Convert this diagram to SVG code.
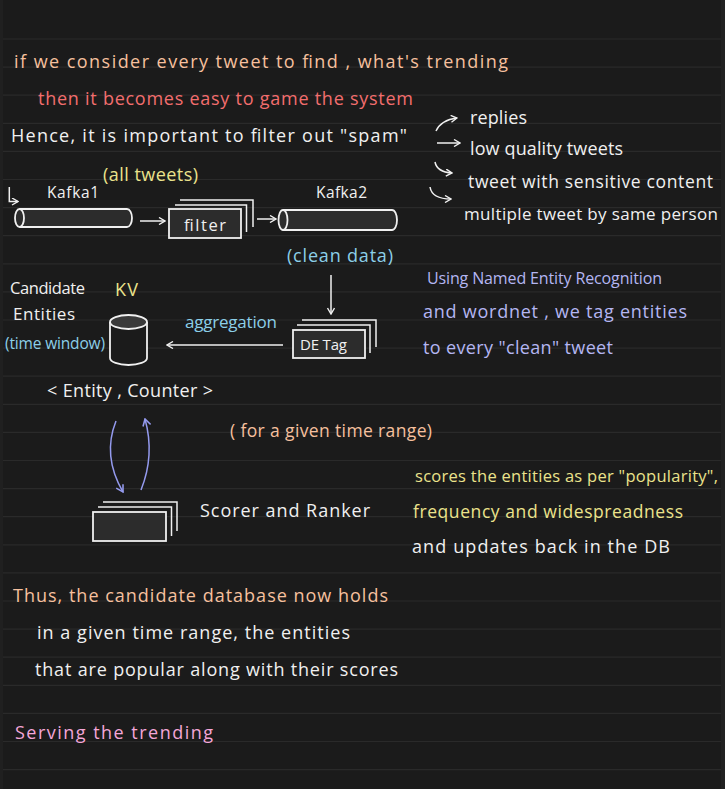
<svg xmlns="http://www.w3.org/2000/svg" width="725" height="789" viewBox="0 0 725 789">
<defs>
<style>
text{font-family:"Open Sans","Liberation Sans",sans-serif;font-size:18px}
.w{fill:#f0f0f0}.pe{fill:#f6c09e}.rd{fill:#f26e6e}.ye{fill:#ebe38c}.bl{fill:#8ccfe8}.lv{fill:#b4b6f2}.pk{fill:#f4a6d8}
.rule{stroke:#2a2a2a;stroke-width:1.2}
.sh{stroke:#f0f0f0;stroke-width:1.8;fill:#2c2c2c}
.ln{stroke:#f0f0f0;stroke-width:1.5;fill:none}
.bln{stroke:#949aee;stroke-width:1.5;fill:none}
</style>
<marker id="ah" viewBox="0 0 8 8" refX="7" refY="4" markerWidth="8" markerHeight="8" markerUnits="userSpaceOnUse" orient="auto">
<path d="M1,0.5 L7,4 L1,7.5" fill="none" stroke="#f0f0f0" stroke-width="1.4"/>
</marker>
<marker id="bh" viewBox="0 0 8 8" refX="7" refY="4" markerWidth="9" markerHeight="9" markerUnits="userSpaceOnUse" orient="auto">
<path d="M1,0.5 L7,4 L1,7.5" fill="none" stroke="#949aee" stroke-width="1.4"/>
</marker>
</defs>
<rect width="725" height="789" fill="#1b1b1b"/>
<rect x="0" y="0" width="3" height="789" fill="#202020"/>
<rect x="721" y="0" width="4" height="789" fill="#212121"/>
<g id="rules">
<line class="rule" x1="3" y1="39" x2="721" y2="39"/>
<line class="rule" x1="3" y1="67.1" x2="721" y2="67.1"/>
<line class="rule" x1="3" y1="95.2" x2="721" y2="95.2"/>
<line class="rule" x1="3" y1="123.3" x2="721" y2="123.3"/>
<line class="rule" x1="3" y1="151.4" x2="721" y2="151.4"/>
<line class="rule" x1="3" y1="179.5" x2="721" y2="179.5"/>
<line class="rule" x1="3" y1="207.6" x2="721" y2="207.6"/>
<line class="rule" x1="3" y1="235.7" x2="721" y2="235.7"/>
<line class="rule" x1="3" y1="263.8" x2="721" y2="263.8"/>
<line class="rule" x1="3" y1="291.9" x2="721" y2="291.9"/>
<line class="rule" x1="3" y1="320" x2="721" y2="320"/>
<line class="rule" x1="3" y1="348.1" x2="721" y2="348.1"/>
<line class="rule" x1="3" y1="376.2" x2="721" y2="376.2"/>
<line class="rule" x1="3" y1="404.3" x2="721" y2="404.3"/>
<line class="rule" x1="3" y1="432.4" x2="721" y2="432.4"/>
<line class="rule" x1="3" y1="460.5" x2="721" y2="460.5"/>
<line class="rule" x1="3" y1="488.6" x2="721" y2="488.6"/>
<line class="rule" x1="3" y1="516.7" x2="721" y2="516.7"/>
<line class="rule" x1="3" y1="544.8" x2="721" y2="544.8"/>
<line class="rule" x1="3" y1="572.9" x2="721" y2="572.9"/>
<line class="rule" x1="3" y1="601" x2="721" y2="601"/>
<line class="rule" x1="3" y1="629.1" x2="721" y2="629.1"/>
<line class="rule" x1="3" y1="657.2" x2="721" y2="657.2"/>
<line class="rule" x1="3" y1="685.3" x2="721" y2="685.3"/>
<line class="rule" x1="3" y1="713.4" x2="721" y2="713.4"/>
<line class="rule" x1="3" y1="741.5" x2="721" y2="741.5"/>
<line class="rule" x1="3" y1="769.6" x2="721" y2="769.6"/>
</g>
<g id="notes">
<text class="pe" x="14" y="68" textLength="494">if we consider every tweet to find , what's trending</text>
<text class="rd" x="38" y="105" textLength="375">then it becomes easy to game the system</text>
<text class="w" x="11" y="142" textLength="396">Hence, it is important to filter out "spam"</text>
<text class="w" x="470" y="124" textLength="57">replies</text>
<text class="w" x="470" y="155" textLength="153">low quality tweets</text>
<text class="w" x="468" y="188" textLength="245" style="font-size:17.5px">tweet with sensitive content</text>
<text class="w" x="464" y="220" textLength="254" style="font-size:17px">multiple tweet by same person</text>
<text class="ye" x="103" y="181" textLength="95">(all tweets)</text>
<text class="bl" x="287" y="262" textLength="106">(clean data)</text>
<text class="bl" x="185" y="328" textLength="92" style="font-size:17px">aggregation</text>
<text class="w" x="47" y="397" textLength="166">&lt; Entity , Counter &gt;</text>
<text class="lv" x="427" y="284" textLength="235" style="font-size:16px">Using Named Entity Recognition</text>
<text class="lv" x="423" y="318" textLength="264">and wordnet , we tag entities</text>
<text class="lv" x="423" y="354" textLength="190">to every "clean" tweet</text>
<text class="pe" x="230" y="437" textLength="202" style="font-size:17.5px">( for a given time range)</text>
<text class="ye" x="415" y="482" textLength="303" style="font-size:16.5px">scores the entities as per "popularity",</text>
<text class="ye" x="413" y="518" textLength="270" style="font-size:17.5px">frequency and widespreadness</text>
<text class="w" x="412" y="553" textLength="258">and updates back in the DB</text>
<text class="pe" x="13" y="602" textLength="375">Thus, the candidate database now holds</text>
<text class="w" x="37" y="639" textLength="313">in a given time range, the entities</text>
<text class="w" x="35" y="676" textLength="363">that are popular along with their scores</text>
<text class="pk" x="15" y="739" textLength="198">Serving the trending</text>
</g>
<g id="kafka1">
<path class="sh" d="M19.5,209 H127 A5,9 0 0 1 127,227 H19.5"/>
<ellipse class="sh" cx="19.5" cy="218" rx="4.5" ry="9"/>
<text class="w" x="47" y="198" textLength="52" style="font-size:15.5px">Kafka1</text>
</g>
<g id="filter">
<polyline class="ln" points="180,200 253,200 253,227"/>
<polyline class="ln" points="175,205 246.5,205 246.5,232"/>
<rect class="sh" x="169" y="209" width="72" height="29"/>
<text class="w" x="184" y="231" textLength="42" style="font-size:16.5px">filter</text>
</g>
<g id="kafka2">
<path class="sh" d="M283,210 H392 A5,10 0 0 1 392,230 H283"/>
<ellipse class="sh" cx="283" cy="220" rx="4.5" ry="10"/>
<text class="w" x="316" y="198" textLength="51" style="font-size:15.5px">Kafka2</text>
</g>
<g id="detag">
<polyline class="ln" points="302,320 376,320 376,347"/>
<polyline class="ln" points="297,325 370,325 370,353"/>
<rect class="sh" x="293" y="330" width="72" height="28"/>
<text class="w" x="300" y="350" textLength="47" style="font-size:15px">DE Tag</text>
</g>
<g id="kv">
<path d="M110,322 V358 A18.5,7 0 0 0 147,358 V322" fill="#1b1b1b" stroke="#f0f0f0" stroke-width="1.8"/>
<ellipse cx="128.5" cy="322" rx="18.5" ry="7" fill="#3a3a3a" stroke="#f0f0f0" stroke-width="1.8"/>
<text class="ye" x="115" y="296" textLength="23">KV</text>
<text class="w" x="10" y="294" textLength="75" style="font-size:16.5px">Candidate</text>
<text class="w" x="13" y="320" textLength="62" style="font-size:17px">Entities</text>
<text class="bl" x="5" y="349" textLength="100" style="font-size:15.5px">(time window)</text>
</g>
<g id="scorer">
<polyline class="ln" points="103,502 177,502 177,531"/>
<polyline class="ln" points="98,507 171.5,507 171.5,536"/>
<rect class="sh" x="93" y="512" width="73" height="29"/>
<text class="w" x="200" y="517" textLength="170">Scorer and Ranker</text>
</g>
<g id="connectors">
<path class="ln" d="M9.3,187 V201.5 H18" marker-end="url(#ah)"/>
<path class="ln" d="M436,131 Q441,120 457,118" marker-end="url(#ah)"/>
<path class="ln" d="M437,143 H460" marker-end="url(#ah)"/>
<path class="ln" d="M435,162 Q437,172 452,173" marker-end="url(#ah)"/>
<path class="ln" d="M430,187 Q432,199 451,199" marker-end="url(#ah)"/>
<path class="ln" d="M140,221 H165" marker-end="url(#ah)"/>
<path class="ln" d="M257,219 H276" marker-end="url(#ah)"/>
<path class="ln" d="M331,275 V314" marker-end="url(#ah)"/>
<path class="ln" d="M283,345 H167" marker-end="url(#ah)"/>
<path class="bln" d="M116,421 Q102,456 123,492" marker-end="url(#bh)"/>
<path class="bln" d="M141,490 Q155,455 145,419" marker-end="url(#bh)"/>
</g>
</svg>
